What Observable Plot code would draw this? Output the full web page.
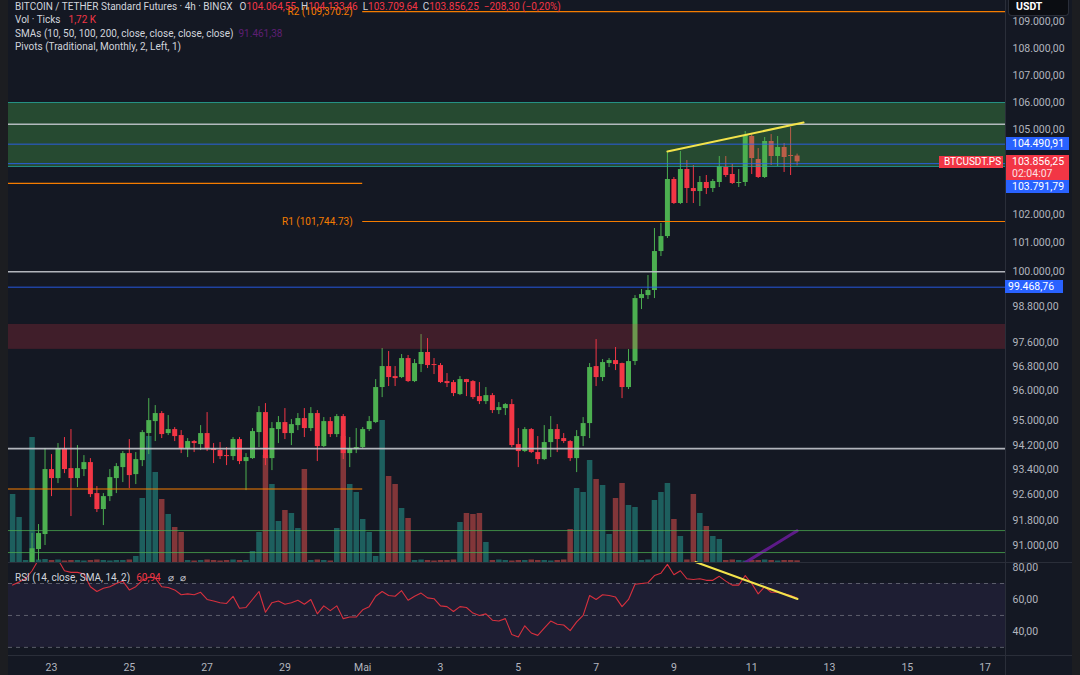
<!DOCTYPE html>
<html><head><meta charset="utf-8">
<script src="https://cdn.jsdelivr.net/npm/d3@7"></script>
<script src="https://cdn.jsdelivr.net/npm/@observablehq/plot@0.6"></script>
<style>
html,body{margin:0;padding:0;background:#141823;}
#wrap{position:relative;width:1080px;height:675px;overflow:hidden;background:#141823;font-family:Roboto,"Noto Sans",sans-serif;}
#wrap svg{position:absolute;left:0;}
.ov{position:absolute;white-space:nowrap;font-size:10px;line-height:13px;color:#d1d4dc;}
.bd{position:absolute;white-space:nowrap;font-size:10.5px;color:#fff;box-sizing:border-box;padding-left:6px;}
</style></head><body><div id="wrap"></div>
<script>
// ---------- DATA (4h candles from 22 Apr 2025 00:00) ----------
const opens = [88100,88500,88900,89200,90875,91345,93412,93123,94090,93444,
93123,93412,93637,92643,92135,92547,93123,93476,93928,93251,
93702,94578,94969,95232,94578,94708,94513,94090,94318,94220,
94578,94090,94026,93863,93831,94383,93670,93766,94610,95264,
93766,94708,94937,94578,94838,95068,94741,95232,94155,94969,
94545,95133,93928,94058,94123,94708,94937,96089,96786,96453,
96420,97053,96287,96853,97255,96853,96820,96287,96254,95857,
96353,96287,95790,95625,95823,95330,95395,95527,94220,93994,
94708,93961,93734,94285,94708,94415,94318,93766,94480,94904,
96786,96420,96886,96986,96886,96089,96953,99079,99181,99354,
100697,101218,103227,102376,103583,102906,102799,103120,102906,103120,
103654,103405,103084,103120,104766,103940,103298,104586,104047,104370,
104083,104064.55];
const highs = [88800,89200,89400,91380,91660,94090,93896,94253,94448,94708,
94188,93863,93766,92867,92643,93412,93605,93994,94383,93961,
94675,95724,95494,95297,95166,94773,94675,94415,94350,94838,
95264,94253,94285,94123,94448,94448,93928,94741,95461,95559,
94937,95133,95395,95035,95232,95395,95428,95330,95101,95101,
95199,95199,94448,94741,94773,95133,96353,97389,97288,96786,
97188,97155,97020,97859,97723,97053,96886,96553,96320,96453,
96360,96320,96254,96089,95890,95592,95559,95691,94741,94773,
94741,94480,94838,95133,94871,94578,94350,94675,95101,96886,
97689,97020,97053,97423,96900,97355,99181,99388,99868,101498,
101674,104190,103298,104226,103904,103725,103334,103369,103227,104047,
104047,103761,103583,104947,104874,104334,104730,104838,104766,104514,
105091,104133.46];
const lows = [87600,88200,88600,89000,90530,91000,92547,92963,93283,91913,
92835,93187,92516,92040,91628,92388,92643,92995,92803,92931,
93508,93896,94318,94415,94513,94318,93928,93799,93961,94026,
93994,93605,93734,93540,93702,93572,92739,93740,94123,93540,
93380,94253,94383,94188,94675,94448,94643,93670,94123,94448,
94448,93734,93476,93928,94090,94643,94904,95757,96122,96122,
96386,96254,96254,96586,96720,96520,96221,96089,95790,95823,
95790,95691,95527,95527,95232,95199,95166,94123,93476,93961,
93928,93572,93702,93799,93961,94253,93670,93315,94155,94415,
96122,96287,96753,96653,95724,96023,96820,98705,99045,99079,
100524,101150,102341,102341,102376,102376,102270,102693,102764,102942,
103298,103049,102942,102978,103405,103262,103262,103725,103690,103476,
103369,103709.64];
const closes = [88500,88900,89200,90900,91377,93412,93123,94090,93412,93123,
93444,93637,92611,92135,92547,93155,93508,93928,93219,93734,
94610,95002,95232,94545,94708,94480,94090,94318,94253,94578,
94090,94026,93831,93831,94383,93670,93799,94643,95264,93766,
94741,94937,94578,94871,95068,94741,95232,94155,94969,94545,
95133,93928,94090,94123,94708,94969,96089,96786,96420,96386,
97053,96287,96886,97255,96820,96820,96254,96221,95890,96353,
96254,95757,95625,95823,95330,95428,95527,94188,93994,94708,
93961,93734,94285,94708,94383,94318,93766,94480,94904,96753,
96420,96920,96986,96853,96089,96953,99079,99216,99354,100697,
101218,103227,102376,103583,102906,102799,103120,102906,103155,103690,
103369,103084,103120,104802,103976,103298,104586,104047,104370,104011,
104047,103856.25];
// tick volume, thousands
const volumes = [68,45,2,125,2.5,3,2,2.5,1.5,2,
2,1.5,2,2.5,2,1.5,2,2,2.5,6,
64,126,90,63,48,35,30,2,1.5,2,
2.5,2,1.5,2,2.5,2,2,11,30,107,
78,41,52,49,34,93,2,2.5,2,1.5,
34,126,78,70,43,30,6,142,86,78,
54,44,2,2.5,2,1.5,2,2,2.5,40,
49,48,49,20,2,2.5,2,1.5,2,2,
2.5,2,2,1.5,2,2.5,33,74,70,102,
83,77,28,64,79,57,55,2,2.5,62,
70,79,43,26,2.5,68,49,36,26,23,
2,2.5,2,1.5,2,2,2.5,2,1.5,2,
2,1.72];
const rsi = [69,71,73,78,85,88,87,85,78,77,
77,76,68,65,67,68,70,71.5,66,68,
72,74,73.5,68,67.5,66,63,63.5,63,64.5,
60,59,58,57.5,62,54.5,55,60,65,52,
58,59,57,58,59.5,57,60,51,56,53,
56,48,49,49,53.5,55.5,62,65,62.5,62,
65.5,59.5,62,64,61,60.5,56,55.5,52.5,55.5,
55,51.5,50,51,47,46.5,48,38,36.5,43.5,
39,37.5,42,46.5,44.5,44,40.5,46,50,62.5,
60,63,62.5,61.5,55.5,60,69.5,70,70.5,75,
76.5,82,75.5,78,73,72.5,73,72,72,74.5,
71.5,69,69,75,70,63.5,68,64.5,64.5,63.5,
62.5,60.94];
// SMA 200 (visible tail), from bar 110
const sma200 = [90090,90215,90340,90470,90590,90715,90840,90965,91090,91215,91340,91461.38];
const smaStart = 110;
// price axis ticks
const priceTicks = [109000,108000,107000,106000,105000,102000,101000,100000,98800,97600,96800,96000,95000,94200,93400,92600,91800,91000];
const rsiTicks = [80,60,40];
const dayTicks = ["2025-04-23","2025-04-25","2025-04-27","2025-04-29","2025-05-01","2025-05-03","2025-05-05","2025-05-07","2025-05-09","2025-05-11","2025-05-13","2025-05-15","2025-05-17"];
// drawn zones
const zoneHigh = [106000, 98200];
const zoneLow = [103690, 97360];
// horizontal levels
const grayLevels = [105210, 100000, 94090];
const blueLevels = [104490.91, 103791.79, 99468.76];
const greenLevels = [91470, 90780];
// monthly pivots
const aprilPivots = [103090, 92790];
const mayPivots = [109370.2, 101744.73];
const mayPivotLabels = ["R2 (109,370.2)", "R1 (101,744.73)"];
// trend lines
const priceTrend = [["2025-05-08T20:00Z",104230],["2025-05-12T08:00Z",105270]];
const rsiTrend = [["2025-05-09T13:20Z",83.5],["2025-05-12T04:15Z",60.3]];
const lastClose = 103856.25;

// ---------- BUILD ----------
const UP="#4caf50", DN="#f23645";
const t0 = Date.UTC(2025,3,22,0,0), BAR = 4*3600e3;
const candles = opens.map((o,i)=>({t:new Date(t0+i*BAR),o,h:highs[i],l:lows[i],c:closes[i],v:volumes[i],r:rsi[i],up:closes[i]>=o}));
const smaRows = sma200.map((v,i)=>({t:new Date(t0+(smaStart+i)*BAR),v}));
const xDomain = [new Date(Date.UTC(2025,3,21,21,28)), new Date(Date.UTC(2025,4,17,12,35))];
const may1 = new Date(Date.UTC(2025,4,1));
const de = d3.formatLocale({decimal:",",thousands:".",grouping:[3],currency:["",""]});
const f2 = de.format(",.2f");
const W=1080, ML=8, MR=75, PH=562;
const xOpt = {type:"time", domain:xDomain, axis:null};
const baseStyle = {background:"transparent", color:"#b2b5be", fontFamily:"Roboto, sans-serif", fontSize:"10.5px", overflow:"visible"};
const zoneRows = zoneHigh.map((h,i)=>({hi:h, lo:zoneLow[i], k:i}));
const mayRows = mayPivots.map((v,i)=>({v, label:mayPivotLabels[i]}));
const ptRows = priceTrend.map(d=>({t:new Date(d[0]), p:d[1]}));
const rtRows = rsiTrend.map(d=>({t:new Date(d[0]), r:d[1]}));

const volPlot = Plot.plot({width:W,height:PH,marginLeft:ML,marginRight:MR,marginTop:0,marginBottom:0,
  x:xOpt, y:{domain:[0,562],axis:null}, style:baseStyle,
  marks:[Plot.ruleX(candles,{x:"t",y1:0,y2:"v",stroke:d=>d.up?"rgba(38,166,154,0.5)":"rgba(239,83,80,0.5)",strokeWidth:5.5})]});

const pricePlot = Plot.plot({width:W,height:PH,marginLeft:ML,marginRight:MR,marginTop:0,marginBottom:0,
  x:xOpt, y:{type:"log", domain:[90470,109791], label:null}, style:baseStyle,
  marks:[
    Plot.ruleX(candles,{x:"t",y1:"l",y2:"h",stroke:d=>d.up?UP:DN,strokeWidth:1,clip:true}),
    Plot.ruleX(candles,{x:"t",y1:"o",y2:"c",stroke:d=>d.up?UP:DN,strokeWidth:5,clip:true}),
    Plot.line(smaRows,{x:"t",y:"v",stroke:"#6a1b9a",strokeWidth:3,strokeOpacity:0.85,clip:true}),
    Plot.rect(zoneRows,{x1:()=>xDomain[0],x2:()=>xDomain[1],y1:"lo",y2:"hi",fill:d=>d.k===0?"#4caf50":"#f23645",fillOpacity:d=>d.k===0?0.33:0.2}),
    Plot.ruleY(zoneRows.filter(d=>d.k===0),{y:"hi",stroke:"#26a69a",strokeOpacity:0.8}),
    Plot.ruleY(zoneRows.filter(d=>d.k===0),{y:"lo",stroke:"#26a69a",strokeOpacity:0.8}),
    Plot.ruleY(aprilPivots,{y:d=>d,x1:()=>xDomain[0],x2:()=>may1,stroke:"#f57c00",strokeWidth:1.2}),
    Plot.ruleY(mayRows,{y:"v",x1:()=>may1,x2:()=>xDomain[1],stroke:"#f57c00",strokeWidth:1.2}),
    Plot.text(mayRows,{x:()=>may1,y:"v",text:"label",textAnchor:"end",dx:-10,fill:"#f57c00",fontSize:10}),
    Plot.ruleY(grayLevels,{y:d=>d,stroke:"#c3c6cd",strokeWidth:1.6,strokeOpacity:0.9}),
    Plot.ruleY(blueLevels,{y:d=>d,stroke:"#2962ff",strokeWidth:1,strokeOpacity:0.85}),
    Plot.ruleY(greenLevels,{y:d=>d,stroke:"#4caf50",strokeWidth:1,strokeOpacity:0.75}),
    Plot.line(ptRows,{x:"t",y:"p",stroke:"#f3e34b",strokeWidth:2}),
    Plot.axisY({anchor:"right",ticks:priceTicks,tickFormat:f2,tickSize:0,tickPadding:7,label:null})
  ]});

const rsiPlot = Plot.plot({width:W,height:113,marginLeft:ML,marginRight:MR,marginTop:0,marginBottom:20,
  x:{type:"time",domain:xDomain,label:null}, y:{domain:[24.9,83.17],label:null}, style:baseStyle,
  marks:[
    Plot.rect([0],{x1:()=>xDomain[0],x2:()=>xDomain[1],y1:30,y2:70,fill:"#7e57c2",fillOpacity:0.1}),
    Plot.ruleY([70,50,30],{y:d=>d,stroke:"#787b86",strokeOpacity:0.7,strokeDasharray:"4,4"}),
    Plot.line(candles,{x:"t",y:"r",stroke:"#d7303e",strokeWidth:1.1,clip:true}),
    Plot.line(rtRows,{x:"t",y:"r",stroke:"#f3e34b",strokeWidth:2}),
    Plot.axisY({anchor:"right",ticks:rsiTicks,tickFormat:f2,tickSize:0,tickPadding:7,label:null}),
    Plot.axisX({ticks:dayTicks.map(s=>new Date(s+"T00:00Z")),tickFormat:d=>d.getUTCDate()===1?"Mai":String(d.getUTCDate()),tickSize:0,tickPadding:8,label:null})
  ]});

const wrap = d3.select("#wrap");
const n1 = wrap.node();
volPlot.style.top="0px"; pricePlot.style.top="0px"; rsiPlot.style.top="562px";
n1.appendChild(volPlot); n1.appendChild(pricePlot); n1.appendChild(rsiPlot);

function box(css){ return wrap.append("div").attr("style","position:absolute;"+css); }
// frame pieces
box("left:0;top:0;width:8px;height:675px;background:#1c1d21;");
box("left:1072px;top:0;width:8px;height:675px;background:#1c1d21;");
box("left:1005px;top:0;width:1px;height:675px;background:#2a2e39;");
box("left:8px;top:562px;width:1064px;height:1px;background:#2a2e39;");
box("left:8px;top:655px;width:1064px;height:1px;background:#2a2e39;");

// legend
const red = "#f23645", gray="#d1d4dc";
function row(top, parts){
  const d = wrap.append("div").attr("class","ov").style("left","15px").style("top",top+"px");
  parts.forEach(p=>d.append("span").text(p[0]).style("color",p[1]||gray).style("margin-left",(p[2]||0)+"px"));
}
row(0,[["BITCOIN / TETHER Standard Futures · 4h · BINGX"],["O",gray,7],[f2(opens[opens.length-1]),red],["H",gray,5],[f2(highs[highs.length-1]),red],
  ["L",gray,5],[f2(lows[lows.length-1]),red],["C",gray,5],[f2(lastClose),red],["−208,30 (−0,20%)",red,5]]);
row(13,[["Vol · Ticks"],["1,72 K",red,8]]);
row(27,[["SMAs (10, 50, 100, 200, close, close, close, close)"],[f2(sma200[sma200.length-1]),"#5e1f73",5]]);
row(40,[["Pivots (Traditional, Monthly, 2, Left, 1)"]]);
row(571,[["RSI (14, close, SMA, 14, 2)"],[f2(rsi[rsi.length-1]),red,6],["⌀",gray,7],["⌀",gray,6]]);

// price badges
const ys = pricePlot.scale("y");
function badge(txt, top, left, width, height, bg, extra){
  const b = wrap.append("div").attr("class","bd")
    .attr("style",`left:${left}px;top:${top}px;width:${width}px;height:${height}px;background:${bg};line-height:${height}px;`+(extra||""));
  if (txt) b.text(txt);
  return b;
}
const yc = ys.apply(lastClose);
badge(f2(blueLevels[0]), ys.apply(blueLevels[0])-6.5, 1006, 63, 13, "#2962ff");
const rb = badge("", yc-6.5, 1006, 63, 25, red, "line-height:12px;padding-top:1px;");
rb.append("div").text(f2(lastClose));
rb.append("div").text("02:04:07").style("opacity","0.85");
badge(f2(blueLevels[1]), yc+18.5, 1006, 63, 13, "#2962ff");
badge(f2(blueLevels[2]), ys.apply(blueLevels[2])-6.5, 1005, 58, 13, "#2962ff", "padding-left:3px;");
badge("BTCUSDT.PS", yc-5, 939, 64, 12, red, "padding-left:5px;font-size:10px;line-height:12px;");
badge("USDT", 0, 1008, 61, 16, "#0b0d12", "font-weight:bold;padding-left:7px;border:1px solid #2a2e39;border-top:none;border-radius:0 0 4px 4px;line-height:14px;");
</script></body></html>
